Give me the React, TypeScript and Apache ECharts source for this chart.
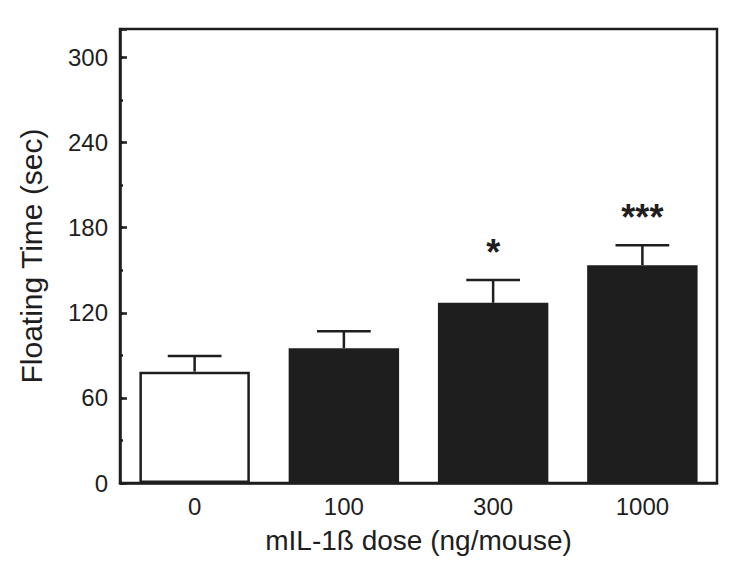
import React, { useEffect, useRef } from "react";
import * as echarts from "echarts";

const categories = ["0", "100", "300", "1000"];
const means = [78.5, 95, 127, 153.5];
const sems = [11, 12, 16, 14];
const significance = ["", "", "*", "***"];
const yTickValues = [0, 60, 120, 180, 240, 300];

export default function App() {
  const ref = useRef<HTMLDivElement>(null);
  useEffect(() => {
    if (!ref.current) return;
    const chart = echarts.init(ref.current, null, { renderer: "svg" });
    const font = "Liberation Sans, Arial, sans-serif";
    const ink = "#1e1e1e";
    chart.setOption({
      animation: false,
      backgroundColor: "#ffffff",
      grid: {
        left: 120,
        right: 33,
        top: 29,
        bottom: 81,
        show: true,
        borderColor: ink,
        borderWidth: 2.5,
        backgroundColor: "transparent",
      },
      xAxis: {
        type: "category",
        data: categories,
        name: "mIL-1ß dose (ng/mouse)",
        nameLocation: "middle",
        nameGap: 43,
        nameTextStyle: { fontFamily: font, fontSize: 28, color: ink },
        axisLine: { lineStyle: { color: ink, width: 2.5 } },
        axisTick: { show: false },
        axisLabel: { fontFamily: font, fontSize: 24, color: ink, margin: 11 },
      },
      yAxis: [
        {
          type: "value",
          min: 0,
          max: 320,
          interval: 60,
          name: "Floating Time (sec)",
          nameLocation: "middle",
          nameGap: 74,
          nameTextStyle: { fontFamily: font, fontSize: 30, color: ink },
          axisLine: { show: true, lineStyle: { color: ink, width: 2.5 } },
          axisTick: { show: true, inside: true, length: 7, lineStyle: { color: ink, width: 2.5 } },
          axisLabel: {
            fontFamily: font,
            fontSize: 24,
            color: ink,
            margin: 12,
            formatter: (v: number) => (yTickValues.includes(v) ? String(v) : ""),
          },
          splitLine: { show: false },
        },
        {
          type: "value",
          min: 0,
          max: 320,
          interval: 30,
          position: "left",
          axisLine: { show: false },
          axisTick: { show: true, inside: true, length: 3, lineStyle: { color: ink, width: 2.5 } },
          axisLabel: { show: false },
          splitLine: { show: false },
        },
      ],
      series: [
        {
          type: "bar",
          barWidth: "74%",
          data: means.map((v, i) => ({
            value: v,
            itemStyle:
              i === 0
                ? { color: "#ffffff", borderColor: ink, borderWidth: 2.5 }
                : { color: ink, borderColor: ink, borderWidth: 0 },
          })),
          z: 2,
        },
        {
          type: "custom",
          z: 3,
          data: means.map((m, i) => [i, m, sems[i]]),
          renderItem: (params: any, api: any) => {
            const idx = api.value(0);
            const m = api.value(1);
            const e = api.value(2);
            const base = api.coord([idx, m]);
            const top = api.coord([idx, m + e]);
            const band = api.size([1, 0])[0];
            const half = band * 0.18;
            const children: any[] = [
              {
                type: "line",
                shape: { x1: base[0], y1: base[1], x2: top[0], y2: top[1] },
                style: { stroke: ink, lineWidth: 2.5 },
              },
              {
                type: "line",
                shape: { x1: top[0] - half, y1: top[1], x2: top[0] + half, y2: top[1] },
                style: { stroke: ink, lineWidth: 2.5 },
              },
            ];
            const sig = significance[params.dataIndex];
            if (sig) {
              children.push({
                type: "text",
                x: top[0],
                y: top[1] - 10,
                style: {
                  text: sig,
                  fill: ink,
                  fontFamily: font,
                  fontSize: 36,
                  fontWeight: "bold",
                  align: "center",
                  verticalAlign: "bottom",
                },
              });
            }
            return { type: "group", children };
          },
        },
      ],
    });
    return () => chart.dispose();
  }, []);
  return (
    <div
      ref={ref}
      style={{ position: "fixed", left: 0, top: 0, width: 750, height: 564, background: "#fff" }}
    />
  );
}
